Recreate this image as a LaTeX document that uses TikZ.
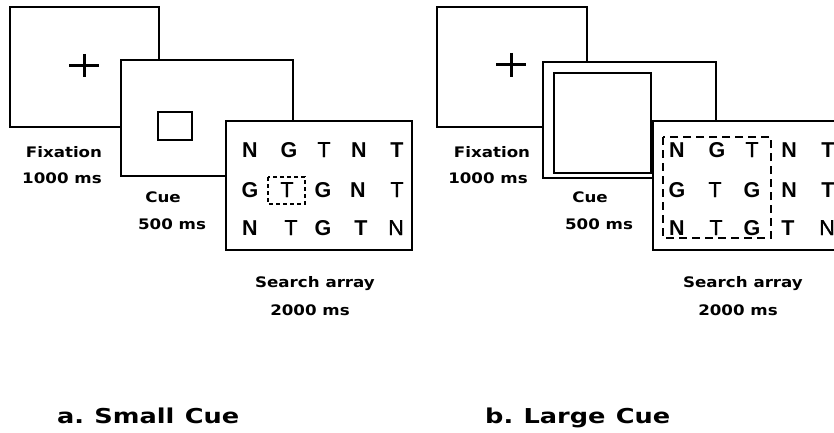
\documentclass[tikz,border=0pt]{standalone}
\usepackage{fontspec}
\newfontfamily\labfont{DejaVu Sans}[FakeStretch=1.15]
\newfontfamily\capfont{DejaVu Sans}[FakeStretch=1.25]
\newfontfamily\letfont{Liberation Sans}
\newfontfamily\letmfont{Liberation Sans}[FakeBold=1.2]
\begin{document}
\begin{tikzpicture}[x=1pt,y=-1pt,
  frame/.style={draw, line width=2.4pt, fill=white},
  lab/.style={font=\labfont\bfseries\fontsize{14.5}{17}\selectfont, anchor=base, inner sep=0pt},
  captext/.style={font=\capfont\bfseries\fontsize{20.5}{24}\selectfont, anchor=base west, inner sep=0pt},
  letb/.style={font=\letfont\bfseries\fontsize{21.5}{24}\selectfont, anchor=base, inner sep=0pt},
  letr/.style={font=\letmfont\fontsize{21.5}{24}\selectfont, anchor=base, inner sep=0pt},
  fixcross/.style={line width=3pt},
  smalldash/.style={draw, line width=1.6pt, dash pattern=on 4pt off 3pt},
  bigdash/.style={draw, line width=2.6pt, dash pattern=on 8pt off 5pt}]
\useasboundingbox (0,0) rectangle (834,433);
\clip (0,0) rectangle (834,433);
% ---------------- panel a ----------------
\draw[frame] (10,7) rectangle (159,127);
\draw[fixcross] (69,66) -- (99,66) (84,54) -- (84,77);
\draw[frame] (121,60) rectangle (293,176);
\draw[line width=2pt] (158,112) rectangle (192,140);
\draw[frame] (226,121) rectangle (412,250);
\foreach \x/\l/\w [count=\i] in {250/N/b,289/G/b,324/T/r,359/N/b,397/T/b}
  \node[let\w] (a1-\i) at (\x,157) {\l};
\foreach \x/\l/\w [count=\i] in {250/G/b,287/T/r,323/G/b,358/N/b,397/T/r}
  \node[let\w] (a2-\i) at (\x,197) {\l};
\foreach \x/\l/\w [count=\i] in {250/N/b,291/T/r,323/G/b,361/T/b,396/N/r}
  \node[let\w] (a3-\i) at (\x,235) {\l};
\draw[smalldash] (268,177) rectangle (305,204);
\node[lab] (afix) at (64,157) {Fixation};
\node[lab] (afixt) at (62,183) {1000\hspace{0.4em}ms};
\node[lab] (acue) at (163,202) {Cue};
\node[lab] (acuet) at (172,229) {500\hspace{0.4em}ms};
\node[lab] (asa) at (315,287) {Search\hspace{0.4em}array};
\node[lab] (asat) at (310,315) {2000\hspace{0.4em}ms};
\node[captext] (acap) at (57,423) {a.\hspace{0.5em}Small\hspace{0.5em}Cue};
% ---------------- panel b ----------------
\draw[frame] (437,7) rectangle (587,127);
\draw[fixcross] (496,65) -- (526,65) (511,53) -- (511,77);
\draw[frame] (543,62) rectangle (716,178);
\draw[line width=2.4pt] (554,73) rectangle (651,173);
\draw[frame] (653,121) rectangle (860,250);
\foreach \x/\l/\w [count=\i] in {677/N/b,717/G/b,752/T/r,789/N/b,828/T/b}
  \node[let\w] (b1-\i) at (\x,157) {\l};
\foreach \x/\l/\w [count=\i] in {677/G/b,715/T/r,752/G/b,789/N/b,828/T/b}
  \node[let\w] (b2-\i) at (\x,197) {\l};
\foreach \x/\l/\w [count=\i] in {677/N/b,716/T/r,752/G/b,788/T/b,827/N/r}
  \node[let\w] (b3-\i) at (\x,235) {\l};
\draw[bigdash] (663,137) rectangle (771,238);
\node[lab] (bfix) at (492,157) {Fixation};
\node[lab] (bfixt) at (488,183) {1000\hspace{0.4em}ms};
\node[lab] (bcue) at (590,202) {Cue};
\node[lab] (bcuet) at (599,229) {500\hspace{0.4em}ms};
\node[lab] (bsa) at (743,287) {Search\hspace{0.4em}array};
\node[lab] (bsat) at (738,315) {2000\hspace{0.4em}ms};
\node[captext] (bcap) at (485,423) {b.\hspace{0.5em}Large\hspace{0.5em}Cue};
\end{tikzpicture}
\end{document}
